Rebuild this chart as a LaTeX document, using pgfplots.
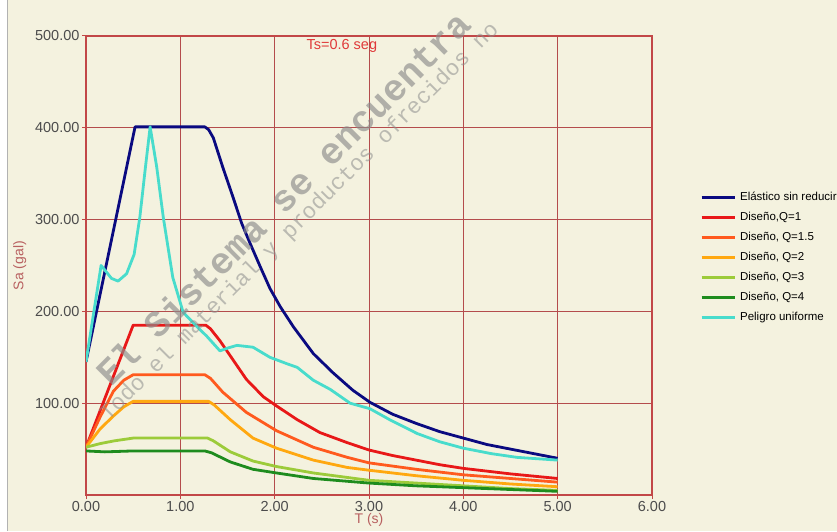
\documentclass[border=0pt]{standalone}
\usepackage{pgfplots}
\pgfplotsset{compat=1.18}
\usepackage{fontspec}
\setmainfont{Liberation Sans}
\newfontfamily\wmfont{Liberation Mono}

\definecolor{bgcream}{HTML}{F4F2DF}
\definecolor{gridred}{HTML}{B44C4C}
\definecolor{framered}{HTML}{C24848}
\definecolor{labred}{HTML}{B86060}
\definecolor{titred}{HTML}{E03A3A}
\definecolor{cElas}{HTML}{0A0A80}
\definecolor{cQa}{HTML}{E81818}
\definecolor{cQb}{HTML}{FF5A1E}
\definecolor{cQc}{HTML}{FFA810}
\definecolor{cQd}{HTML}{9CCB3A}
\definecolor{cQe}{HTML}{1E8C1E}
\definecolor{cPel}{HTML}{48DCCC}

\begin{document}
\begin{tikzpicture}[x=1pt,y=1pt]
\path[use as bounding box] (0,0) rectangle (837,531);
\fill[bgcream] (0,0) rectangle (837,531);
\fill[white] (0,0) rectangle (7,531);
\draw[black!30] (7.5,0) -- (7.5,531);

\begin{axis}[
    at={(86pt,36pt)}, anchor=south west,
    scale only axis,
    width=566pt, height=459pt,
    xmin=0, xmax=6, ymin=0, ymax=500,
    xtick={0,1,2,3,4,5,6},
    ytick={100,200,300,400,500},
    /pgf/number format/.cd, fixed, fixed zerofill, precision=2, assume math mode=true,
    /pgfplots/.cd,
    grid=major,
    major grid style={color=gridred, line width=1pt},
    axis line style={color=framered, line width=1.6pt},
    tick style={color=framered, line width=1pt},
    major tick length=4pt,
    tick align=outside,
    xtick pos=bottom, ytick pos=left,
    ticklabel style={font=\fontsize{14.5}{16}\selectfont, text=black!70},
    xticklabel style={yshift=1pt},
    yticklabel style={xshift=1pt},
    xlabel={T (s)},
    ylabel={Sa (gal)},
    xlabel style={at={(axis description cs:0.5,-0.054)}, anchor=center, text=labred, font=\fontsize{14}{16}\selectfont},
    ylabel style={at={(axis description cs:-0.117,0.5)}, anchor=center, rotate=0, text=labred, font=\fontsize{14}{16}\selectfont},
    title={Ts=0.6 seg},
    title style={at={(axis description cs:0.452,0.965)}, anchor=center, text=titred, font=\fontsize{14.5}{16}\selectfont},
    legend style={draw=none, fill=none, at={(1.085,0.66)}, anchor=north west,
        font=\fontsize{11.5}{13}\selectfont, row sep=9pt, inner sep=0pt,
        nodes={inner sep=0pt, text height=8.5pt, text depth=2.5pt},
        /tikz/every odd column/.append style={column sep=4pt}},
    legend cell align=left,
    legend image code/.code={\draw[#1] (0pt,0pt) -- (33pt,0pt);},
    every axis plot/.append style={line width=2.8pt, line join=round, no marks},
]

\addplot[cElas] coordinates {
(0,145)(0.52,401)(1.26,401)(1.30,398)(1.35,389)(1.45,357)(1.56,324)(1.65,296)
(1.74,274)(1.85,248)(1.95,225)(2.06,205)(2.20,183)(2.41,154)(2.62,133)(2.83,114)
(3.01,101)(3.25,88)(3.50,78)(3.75,69)(4.00,62)(4.25,55)(4.50,50)(4.75,45)(5.00,40)
};
\addlegendentry{Elástico sin reducir}

\addplot[cQa] coordinates {
(0,52)(0.50,185)(1.27,185)(1.32,181)(1.42,168)(1.56,147)(1.70,126)(1.88,107)
(2.02,97)(2.24,82)(2.48,68)(2.77,57)(3.00,49)(3.25,43)(3.50,38)(3.75,33)(4.00,29)
(4.50,23)(5.00,18)
};
\addlegendentry{Diseño,Q=1}

\addplot[cQb] coordinates {
(0,52)(0.15,85)(0.29,113)(0.40,125)(0.50,131)(1.26,131)(1.32,127)(1.45,112)
(1.70,90)(2.02,70)(2.41,52)(2.77,41)(3.00,35)(3.50,28)(4.00,22)(4.50,18)(5.00,14)
};
\addlegendentry{Diseño, Q=1.5}

\addplot[cQc] coordinates {
(0,52)(0.15,72)(0.29,86)(0.40,96)(0.50,102)(1.30,102)(1.36,98)(1.53,82)
(1.77,62)(2.02,51)(2.41,38)(2.77,30)(3.00,27)(3.50,21)(4.00,16)(4.50,12)(5.00,9)
};
\addlegendentry{Diseño, Q=2}

\addplot[cQd] coordinates {
(0,52)(0.15,56)(0.30,59)(0.50,62)(1.29,62)(1.35,59)(1.53,47)(1.77,37)
(2.02,31)(2.41,24)(3.00,16)(3.50,13)(4.00,10)(4.50,7)(5.00,5)
};
\addlegendentry{Diseño, Q=3}

\addplot[cQe] coordinates {
(0,48)(0.20,47)(0.50,48)(1.26,48)(1.33,46)(1.53,36)(1.77,28)(2.02,24)
(2.41,18)(3.00,13)(3.50,10)(4.00,8)(4.50,6)(5.00,4)
};
\addlegendentry{Diseño, Q=4}

\addplot[cPel] coordinates {
(0,145)(0.16,250)(0.20,245)(0.27,236)(0.34,233)(0.43,241)(0.51,262)(0.57,302)
(0.63,357)(0.68,401)(0.75,357)(0.82,302)(0.92,237)(1.03,199)(1.18,183)(1.28,173)
(1.42,157)(1.50,160)(1.60,163)(1.77,161)(1.95,150)(2.13,143)(2.24,139)(2.41,125)
(2.59,115)(2.80,100)(3.01,94)(3.22,82)(3.51,67)(3.75,58)(4.00,51)(4.30,45)
(4.57,41)(5.00,38)
};
\addlegendentry{Peligro uniforme}

\end{axis}

% marca de agua
\node[rotate=45, text=black!45, opacity=0.65, font=\wmfont\bfseries\fontsize{37}{37}\selectfont]
  at (283,333) {El Sistema se encuentra};
\node[rotate=45, text=black!45, opacity=0.55, font=\wmfont\fontsize{22.5}{23}\selectfont]
  at (300,309) {Todo el material y productos ofrecidos no};
\end{tikzpicture}
\end{document}
